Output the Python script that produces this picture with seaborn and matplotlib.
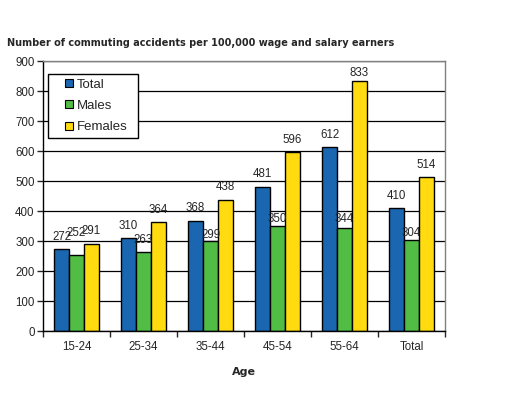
import pandas as pd
import seaborn as sns
import matplotlib.pyplot as plt
from matplotlib.lines import Line2D

# Kategoriat ja arvot
age_groups = ["15-24", "25-34", "35-44", "45-54", "55-64", "Total"]
total = [272, 310, 368, 481, 612, 410]
males = [252, 263, 299, 350, 344, 304]
females = [291, 364, 438, 596, 833, 514]
series = ["Total", "Males", "Females"]
colors = ["#1a66b0", "#52bd44", "#ffdb0f"]

# Arvomerkintöjen etäisyys pylvään yläreunasta (pt), kuten Excelin sijoittelu
label_pad = [
    [4.5, 4.5, 4.5, 4.5, 4.5, 4.5],
    [11.5, 4.5, 0.3, 0.8, 2.2, 0.8],
    [4.5, 4.5, 4.5, 4.5, 1.2, 4.5],
]

df = pd.DataFrame({
    "Age": age_groups * 3,
    "Group": ["Total"] * 6 + ["Males"] * 6 + ["Females"] * 6,
    "Value": total + males + females,
})

sns.set_style("white")
plt.rcParams["font.family"] = ["Liberation Sans", "DejaVu Sans"]

fig = plt.figure(figsize=(5.28, 3.97), dpi=100)
ax = fig.add_axes([43 / 528, 1 - 331 / 397, 402 / 528, 270 / 397])

sns.barplot(
    data=df, x="Age", y="Value", hue="Group",
    order=age_groups, hue_order=series,
    palette=colors, width=0.67, gap=0,
    edgecolor="black", linewidth=1.0, saturation=1,
    ax=ax, legend=False, err_kws={"linewidth": 0},
)

for cont, pads in zip(ax.containers, label_pad):
    anns = ax.bar_label(cont, padding=4.5, fontsize=8.3)
    for ann, p in zip(anns, pads):
        ann.xyann = (0, p)

ax.set_ylim(0, 900)
ax.set_xlim(-0.5, 5.5)
ax.set_yticks(range(0, 901, 100))
ax.yaxis.grid(True, color="black", linewidth=0.9)
ax.set_axisbelow(True)

ax.tick_params(axis="y", labelsize=8.3, length=4, width=1, direction="out", left=True, pad=2)
ax.tick_params(axis="x", which="major", labelsize=8.3, length=0, pad=7)
ax.set_xticks([i - 0.5 for i in range(7)], minor=True)
ax.tick_params(axis="x", which="minor", length=4, width=1, direction="out", bottom=True)

for side in ["left", "bottom"]:
    ax.spines[side].set_color("black")
    ax.spines[side].set_linewidth(1)
for side in ["top", "right"]:
    ax.spines[side].set_color("#808080")
    ax.spines[side].set_linewidth(1)

ax.set_ylabel("")
ax.set_xlabel("Age", fontsize=8, fontweight="bold", family="DejaVu Sans", labelpad=10)

handles = [
    Line2D([], [], linestyle="none", marker="s", markersize=5.2,
           markerfacecolor=c, markeredgecolor="black", markeredgewidth=0.8)
    for c in colors
]
leg = ax.legend(
    handles, series,
    loc="upper left", bbox_to_anchor=(5 / 402, 1 - 13 / 270, 90 / 402, 0),
    mode="expand", frameon=True, fancybox=False, fontsize=9.5,
    handlelength=2.5, handletextpad=-0.68,
    labelspacing=0.68, borderpad=0.35, borderaxespad=0,
)
leg.get_frame().set_edgecolor("black")
leg.get_frame().set_linewidth(1)
leg.get_frame().set_alpha(1)

fig.text(7 / 528, 1 - 43 / 397,
         "Number of commuting accidents per 100,000 wage and salary earners",
         fontsize=7, fontweight="bold", family="DejaVu Sans", va="center", ha="left")

plt.savefig("out.png", dpi=100)
plt.close()
